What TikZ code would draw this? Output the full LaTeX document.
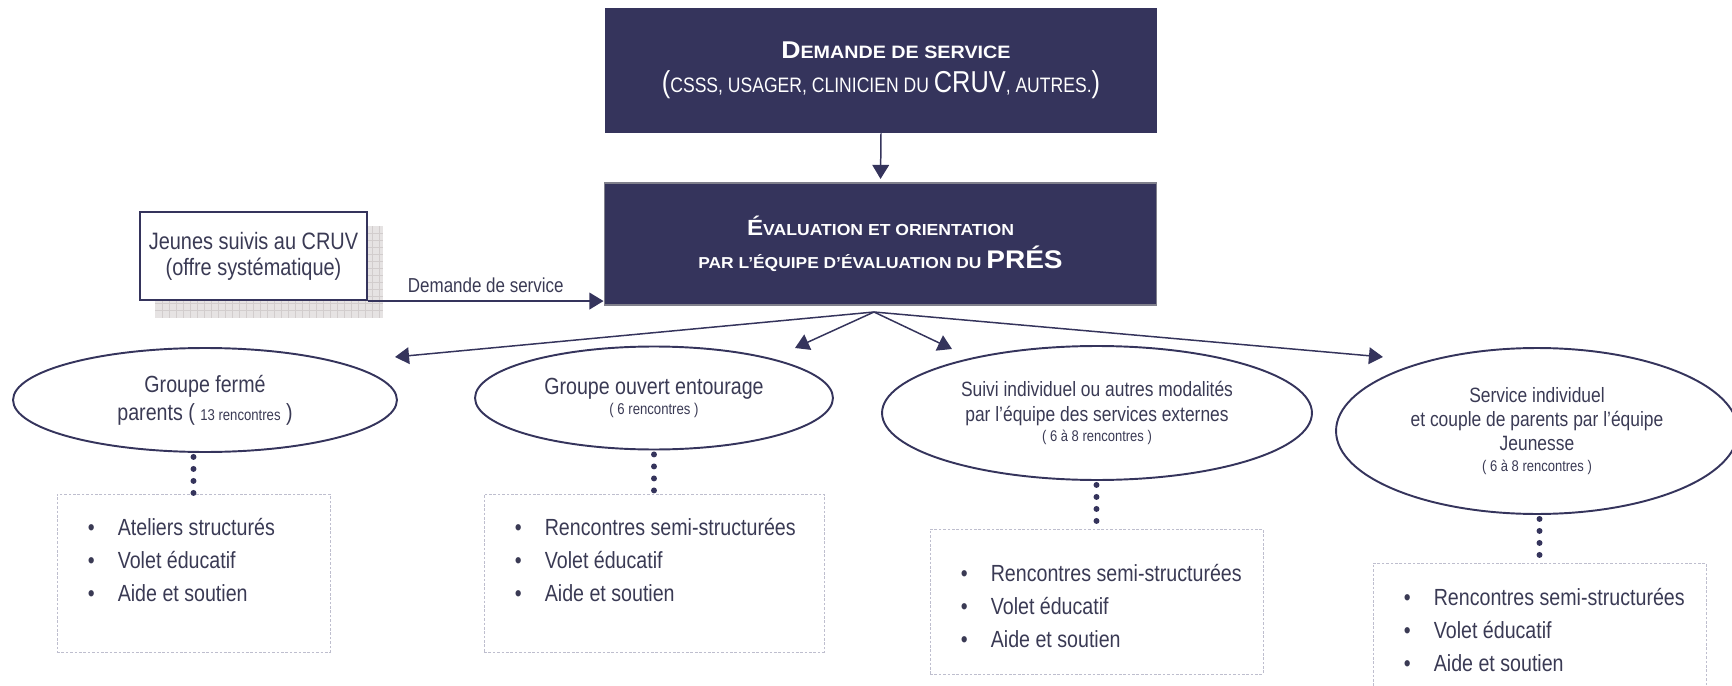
\documentclass[tikz,border=0pt]{standalone}
\usepackage{fontspec}
\setmainfont{Liberation Sans}[FakeStretch=0.84]
\newfontfamily\titlefont{Liberation Sans}[FakeStretch=1.1]
\usepackage{tikz}
\usetikzlibrary{positioning, calc}
\usetikzlibrary{shapes.geometric}
\usetikzlibrary{arrows.meta}

\definecolor{navy}{RGB}{53,52,92}
\definecolor{inktext}{RGB}{58,58,84}
\definecolor{dashgray}{RGB}{190,190,206}
\definecolor{shadowgray}{RGB}{230,227,227}
\definecolor{gridgray}{RGB}{210,205,205}
\definecolor{edgegray}{RGB}{128,128,140}

\newcommand{\puce}{\makebox[17pt][l]{\textbullet}}

\tikzset{
    titlebox/.style={fill=navy, text=white, align=center, inner sep=0pt},
    sidebox/.style={draw=navy, line width=1.2pt, fill=white, text=inktext, align=center, inner sep=0pt},
    bubble/.style={ellipse, draw=navy, line width=1.1pt, text=inktext, align=center, inner sep=0pt},
    listbox/.style={draw=dashgray, dash pattern=on 1.5pt off 1pt, line width=0.5pt, inner sep=0pt},
    items/.style={anchor=north west, align=left, inner sep=0pt, text=inktext, font=\fontsize{13.3}{18.8}\selectfont},
    flow/.style={draw=navy, line width=0.85pt, -{Triangle[length=8pt,width=9.5pt]}},
    dots/.style={navy, line width=3.4pt, line cap=round, dash pattern=on 0pt off 6.83pt}
}

\begin{document}
\begin{tikzpicture}[x=0.02cm, y=-0.02cm]
    \useasboundingbox (0,0) rectangle (1732,686);
    \clip (0,0) rectangle (1732,686);

    % boites du haut
    \node[titlebox, minimum width=11.04cm, minimum height=2.5cm, font=\fontsize{11.9}{19.3}\selectfont] (demande) at (881,70.5)
        {\hspace*{17pt}{\titlefont\bfseries\fontsize{13.8}{19.3}\selectfont D{\fontsize{10.2}{19.3}\selectfont EMANDE DE SERVICE}}\\
         {\fontsize{17.2}{19.3}\selectfont (}CSSS, USAGER, CLINICIEN DU {\fontsize{17.2}{19.3}\selectfont CRUV}, AUTRES.{\fontsize{17.2}{19.3}\selectfont )}};
    \node[titlebox, draw=edgegray, line width=0.6pt, minimum width=11.06cm, minimum height=2.44cm, font=\fontsize{9}{18.5}\selectfont] (eval) at (880.5,244)
        {{\titlefont\bfseries\fontsize{12.5}{18.5}\selectfont É{\fontsize{9.1}{18.5}\selectfont VALUATION ET ORIENTATION}}\\
         {\titlefont\bfseries PAR L’ÉQUIPE D’ÉVALUATION DU {\fontsize{14.5}{18.5}\selectfont PRÉS}}};
    \draw[flow, shorten >=2pt] (demande.south) -- (eval.north);

    % jeunes suivis, avec son ombre quadrillee
    \fill[shadowgray] (155,226) rectangle (383,318);
    \foreach \gx in {162,169,...,380}{
        \draw[gridgray, line width=0.3pt] (\gx,226) -- (\gx,318);
    }
    \foreach \gy in {233,240,...,316}{
        \draw[gridgray, line width=0.3pt] (155,\gy) -- (383,\gy);
    }
    \node[sidebox, minimum width=4.54cm, minimum height=1.76cm, font=\fontsize{13.5}{14.8}\selectfont] (jeunes) at (253.5,256)
        {Jeunes suivis au CRUV\\(offre systématique)};
    \draw[flow] (jeunes.south east) -- (jeunes.south east -| eval.west)
        node[midway, above=1pt, text=inktext, font=\fontsize{11.5}{13}\selectfont] {Demande de service};

    % les quatre modalites
    \node[bubble, minimum width=7.68cm, minimum height=2.08cm, font=\fontsize{13.3}{16}\selectfont] (ferme) at (205,400)
        {Groupe fermé\\parents ( {\fontsize{8.9}{16}\selectfont 13 rencontres} )};
    \node[bubble, minimum width=7.16cm, minimum height=2.06cm, font=\fontsize{13.3}{11.4}\selectfont] (ouvert) at (654,398)
        {Groupe ouvert entourage\\{\fontsize{8.9}{11.4}\selectfont ( 6 rencontres )}};
    \node[bubble, minimum width=8.6cm, minimum height=2.68cm, font=\fontsize{11.8}{13.7}\selectfont] (suivi) at (1097,413)
        {Suivi individuel ou autres modalités\\par l’équipe des services externes\\[-2.3pt]{\fontsize{8.8}{11.4}\selectfont ( 6 à 8 rencontres )}};
    \node[bubble, minimum width=8.04cm, minimum height=3.32cm, font=\fontsize{11.8}{13.7}\selectfont] (jeunesse) at (1537,431)
        {Service individuel\\et couple de parents par l’équipe\\Jeunesse\\[-1.7pt]{\fontsize{8.8}{11.4}\selectfont ( 6 à 8 rencontres )}};

    \coordinate (fan) at (874,312);
    \coordinate (tferme) at (395,357);
    \coordinate (touvert) at (795,348);
    \coordinate (tsuivi) at (952,349);
    \coordinate (tjeunesse) at (1383,357);
    \foreach \t in {tferme, touvert, tsuivi, tjeunesse}{
        \draw[flow] (fan) -- (\t);
    }

    % contenus
    \node[listbox, minimum width=5.46cm, minimum height=3.16cm] (lferme) at (193.5,573) {};
    \node[listbox, minimum width=6.8cm, minimum height=3.16cm] (louvert) at (654,573) {};
    \node[listbox, minimum width=6.66cm, minimum height=2.9cm] (lsuivi) at (1096.5,601.5) {};
    \node[listbox, minimum width=6.66cm, minimum height=2.9cm] (ljeunesse) at (1539.5,635.5) {};

    \node[items] at ($(lferme.north west)+(31,24)$)
        {\puce Ateliers structurés\\\puce Volet éducatif\\\puce Aide et soutien};
    \node[items] at ($(louvert.north west)+(31,24)$)
        {\puce Rencontres semi-structurées\\\puce Volet éducatif\\\puce Aide et soutien};
    \node[items] at ($(lsuivi.north west)+(31,35)$)
        {\puce Rencontres semi-structurées\\\puce Volet éducatif\\\puce Aide et soutien};
    \node[items] at ($(ljeunesse.north west)+(31,25)$)
        {\puce Rencontres semi-structurées\\\puce Volet éducatif\\\puce Aide et soutien};

    \draw[dots] (lferme.north |- ferme.south) ++(0,4) -- ++(0,36.5);
    \draw[dots] (louvert.north |- ouvert.south) ++(0,4) -- ++(0,36.5);
    \draw[dots] (lsuivi.north |- suivi.south) ++(0,4) -- ++(0,36.5);
    \draw[dots] (ljeunesse.north |- jeunesse.south) ++(0,4) -- ++(0,36.5);
\end{tikzpicture}
\end{document}
